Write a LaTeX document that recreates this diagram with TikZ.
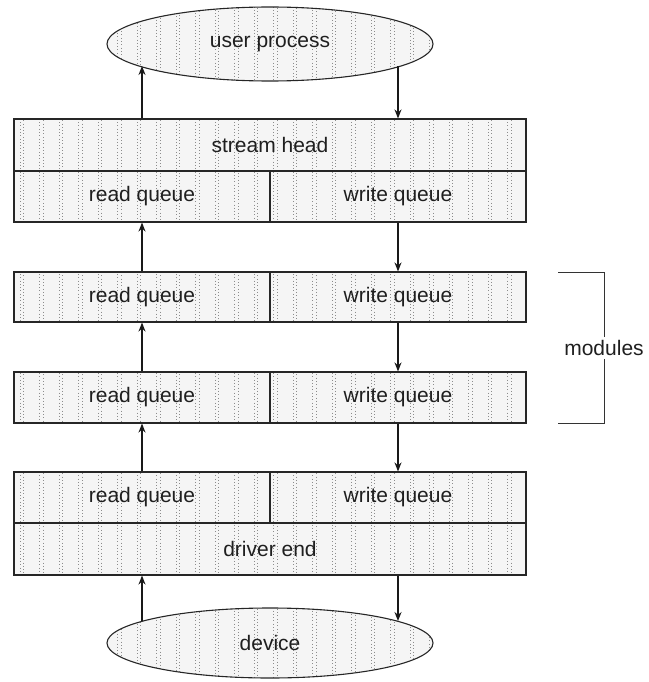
\documentclass[tikz,border=0pt]{standalone}
\usepackage{fontspec}
\setmainfont{Liberation Sans}
\usetikzlibrary{shapes.geometric,arrows.meta}
\begin{document}
\begin{tikzpicture}[x=1pt,y=-1pt,
  every node/.style={font=\fontsize{21}{24}\selectfont, text=black!88},
  box/.style={draw=black!85, line width=1.1pt, inner sep=0pt},
  halfbox/.style={box, minimum width=256pt, minimum height=#1},
  fullbox/.style={box, minimum width=512pt, minimum height=#1},
  oval/.style={draw=black!85, line width=1.1pt, ellipse, inner sep=0pt, minimum width=326pt},
  arr/.style={line width=1.6pt, draw=black!90, -{Stealth[length=9pt,width=7pt]}},
  bracket/.style={line width=0.9pt, draw=black!80},
  dotsty/.style={draw=black!45, line width=0.9pt, dash pattern=on 0.9pt off 2.4pt}]
\useasboundingbox (0,0) rectangle (648,682);

% stipple texture inside all shapes
\begin{scope}
  \clip (14,119) rectangle (526,222)
        (14,272) rectangle (526,322)
        (14,372) rectangle (526,423)
        (14,472) rectangle (526,575)
        (270,44) ellipse [x radius=163, y radius=37]
        (270,643) ellipse [x radius=163, y radius=35];
  \fill[black!4] (0,0) rectangle (648,682);
  \foreach \i in {0,...,26} {
    \draw[dotsty] ({20+19.5*\i},0) -- ++(0,682);
    \draw[dotsty] ({23.5+19.5*\i},1.5) -- ++(0,682);
  }
\end{scope}

% user process and device
\node[oval, minimum height=74pt] (up) at (270,44) {user process};
\node[oval, minimum height=70pt] (dev) at (270,643) {device};

% stream head
\node[fullbox=52pt] (sh) at (270,145) {stream head};
\node[halfbox=51pt] (rq0) at (142,196.5) {read queue};
\node[halfbox=51pt] (wq0) at (398,196.5) {write queue};

% modules
\node[halfbox=50pt] (rq1) at (142,297) {read queue};
\node[halfbox=50pt] (wq1) at (398,297) {write queue};
\node[halfbox=51pt] (rq2) at (142,397.5) {read queue};
\node[halfbox=51pt] (wq2) at (398,397.5) {write queue};

% driver
\node[halfbox=51pt] (rq3) at (142,497.5) {read queue};
\node[halfbox=51pt] (wq3) at (398,497.5) {write queue};
\node[fullbox=52pt] (de) at (270,549) {driver end};

% points where the arrows meet the ovals
\coordinate (upL) at (142,66);
\coordinate (upR) at (398,66);
\coordinate (devL) at (142,621);
\coordinate (devR) at (398,621);

% read side (upward)
\draw[arr] (sh.north -| rq0.north) -- (upL);
\draw[arr] (rq1.north) -- (rq0.south);
\draw[arr] (rq2.north) -- (rq1.south);
\draw[arr] (rq3.north) -- (rq2.south);
\draw[arr] (devL) -- (de.south -| rq3.south);

% write side (downward)
\draw[arr] (upR) -- (sh.north -| wq0.north);
\draw[arr] (wq0.south) -- (wq1.north);
\draw[arr] (wq1.south) -- (wq2.north);
\draw[arr] (wq2.south) -- (wq3.north);
\draw[arr] (de.south -| wq3.south) -- (devR);

% modules bracket
\node[inner sep=3pt] (mod) at (604,348) {modules};
\coordinate (bt) at (558,272);
\coordinate (bb) at (558,423);
\draw[bracket] (bt) -| (mod.north);
\draw[bracket] (mod.south) |- (bb);
\end{tikzpicture}
\end{document}
